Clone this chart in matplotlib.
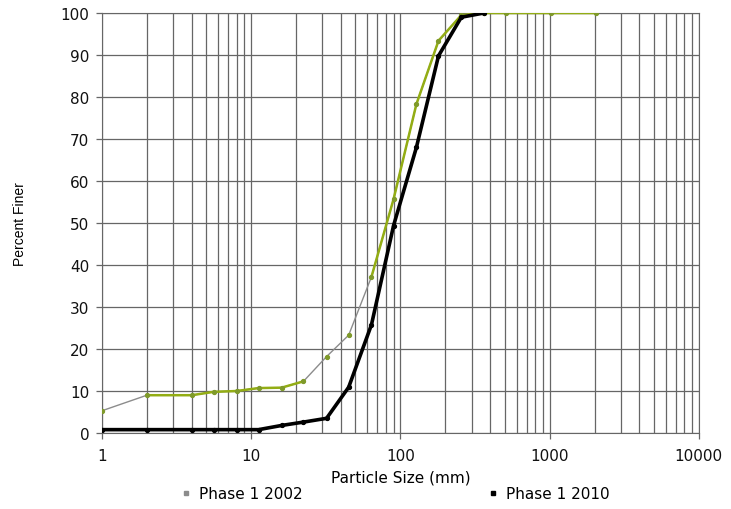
import numpy as np
import matplotlib.pyplot as plt
from matplotlib.lines import Line2D

plt.rcParams['font.family'] = ['DejaVu Sans']

# sieve sizes (mm) and percent finer for each survey
size_2002 = [1, 2, 4, 5.6, 8, 11.2, 16, 22.4, 32, 45, 64, 90, 128, 180, 256, 362, 512, 1024, 2048]
finer_2002 = [5.3, 9.0, 9.0, 9.8, 10.0, 10.7, 10.8, 12.3, 18.2, 23.3, 37.2, 55.7, 78.3, 93.4, 99.5, 100, 100, 100, 100]
size_2010 = [1, 2, 4, 5.6, 8, 11.2, 16, 22.4, 32, 45, 64, 90, 128, 180, 256, 362]
finer_2010 = [0.8, 0.8, 0.8, 0.8, 0.8, 0.8, 1.8, 2.6, 3.5, 10.9, 25.8, 49.4, 68.0, 89.8, 99.0, 100]

# which 2002 points get the green fitted curve (the rest show as thin grey)
green_idx = [1, 2, 3, 4, 5, 6, 7]
green_idx2 = list(range(10, 19))

fig = plt.figure(figsize=(7.31, 5.10), dpi=100)
ax = fig.add_axes([0.1395, 0.149, 0.8165, 0.8235])

x2002 = np.array(size_2002)
y2002 = np.array(finer_2002)
ax.plot(x2002, y2002, color='#8c8c8c', lw=1.0, zorder=3)
ax.plot(x2002[green_idx], y2002[green_idx], color='#93ad14', lw=1.8, zorder=4)
ax.plot(x2002[green_idx2], y2002[green_idx2], color='#93ad14', lw=1.8, zorder=4)
ax.plot(x2002, y2002, ls='none', marker='o', ms=2.8, color='#7f9a2a', zorder=5)

ax.plot(size_2010, finer_2010, color='black', lw=2.6, marker='o', ms=2.8, zorder=6)

ax.set_xscale('log')
ax.set_xlim(1, 10000)
ax.set_ylim(0, 100)
ax.set_yticks(np.arange(0, 101, 10))
ax.set_xticks([1, 10, 100, 1000, 10000])
ax.set_xticklabels(['1', '10', '100', '1000', '10000'])
ax.minorticks_on()
ax.yaxis.set_minor_locator(plt.NullLocator())
ax.grid(True, which='both', axis='x', color='#666666', lw=0.9)
ax.grid(True, which='major', axis='y', color='#666666', lw=0.9)
ax.set_axisbelow(True)
for s in ax.spines.values():
    s.set_color('#666666')
ax.tick_params(which='major', length=4, width=0.9, color='#666666',
               labelsize=11, labelcolor='#111111', pad=5)
ax.tick_params(axis='x', pad=6.5)
ax.tick_params(which='minor', length=0)

ax.set_xlabel('Particle Size (mm)', fontsize=11, labelpad=5)
ax.set_ylabel('Percent Finer', fontsize=10, labelpad=24, family='Liberation Sans')

handles = [Line2D([], [], ls='none', marker='s', ms=3, color='#8c8c8c'),
           Line2D([], [], ls='none', marker='s', ms=3, color='black')]
fig.legend(handles, ['Phase 1 2002', 'Phase 1 2010'], ncol=2, loc='lower center',
           bbox_to_anchor=(0.539, -0.012), frameon=False, fontsize=11,
           columnspacing=12.0, handletextpad=0.3, handlelength=1.0)

fig.savefig('out.png', dpi=100)
